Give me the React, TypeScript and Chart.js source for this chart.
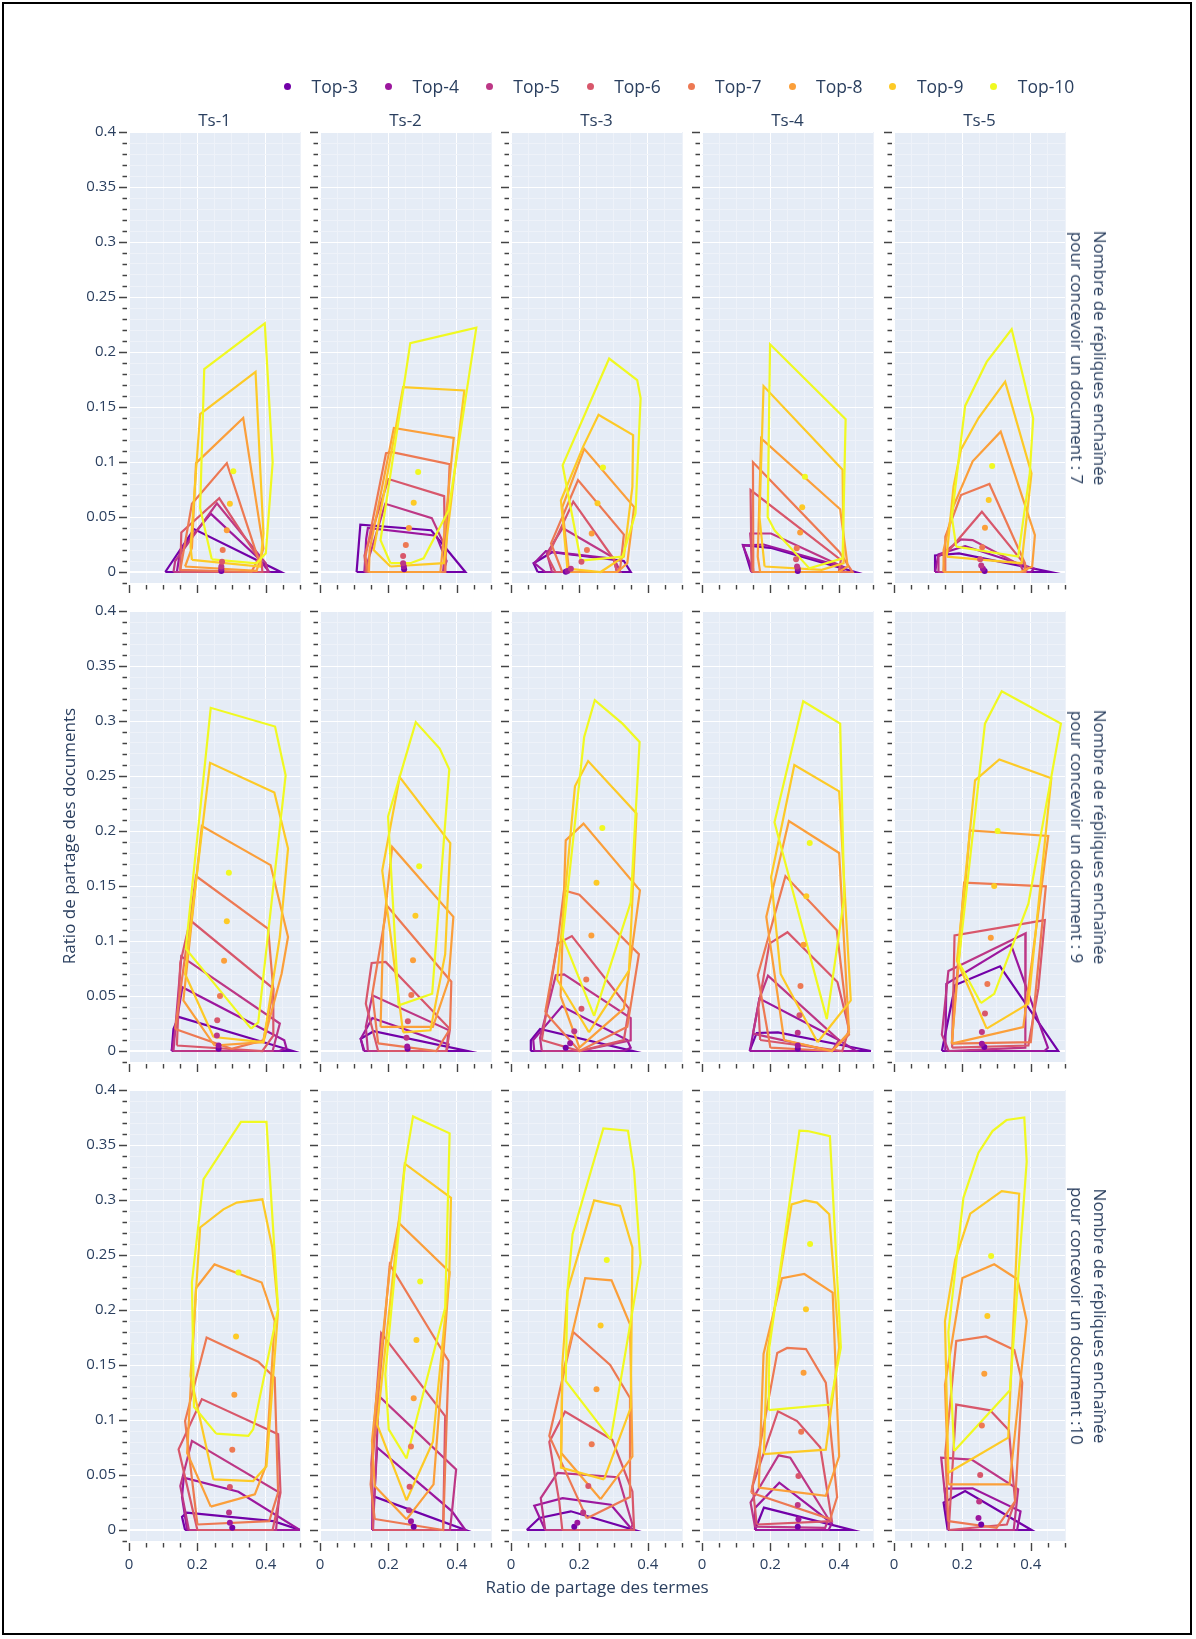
import React, { useEffect, useRef } from "react";
import { Chart, registerables } from "chart.js";

Chart.register(...registerables);

// ---------------- data ----------------
const TOP_LABELS = ["Top-3", "Top-4", "Top-5", "Top-6", "Top-7", "Top-8", "Top-9", "Top-10"];
const TOP_COLORS = ["#7201a8", "#9c179e", "#bd3786", "#d8576b", "#ed7953", "#fb9f3a", "#fdca26", "#f0f921"];
const COL_TITLES = ["Ts-1", "Ts-2", "Ts-3", "Ts-4", "Ts-5"];
const ROW_LABELS = [
  ["Nombre de répliques enchaînée", "pour concevoir un document : 7"],
  ["Nombre de répliques enchaînée", "pour concevoir un document : 9"],
  ["Nombre de répliques enchaînée", "pour concevoir un document :10"],
];
const X_TITLE = "Ratio de partage des termes";
const Y_TITLE = "Ratio de partage des documents";
const X_TICKS = [0, 0.2, 0.4];
const X_TICK_LABELS = ["0", "0.2", "0.4"];
const Y_TICKS = [0, 0.05, 0.1, 0.15, 0.2, 0.25, 0.3, 0.35, 0.4];
const Y_TICK_LABELS = ["0", "0.05", "0.1", "0.15", "0.2", "0.25", "0.3", "0.35", "0.4"];

type Pt = [number, number];

// Row 1 (7)
const R1C1_HULLS: Pt[][] = [
  [[0.106, 0], [0.19, 0.039], [0.444, 0]],
  [[0.14, 0], [0.15, 0.02], [0.239, 0.053], [0.38, 0.012], [0.41, 0]],
  [[0.13, 0], [0.135, 0.01], [0.257, 0.0624], [0.4, 0.008], [0.407, 0]],
  [[0.15, 0], [0.153, 0.036], [0.264, 0.067], [0.388, 0.008], [0.39, 0]],
  [[0.15, 0.002], [0.184, 0.062], [0.286, 0.099], [0.378, 0.012], [0.358, 0]],
  [[0.164, 0.005], [0.184, 0.022], [0.196, 0.099], [0.334, 0.14], [0.393, 0.0215], [0.373, 0.001]],
  [[0.184, 0.011], [0.18, 0.023], [0.208, 0.1436], [0.37, 0.182], [0.393, 0.035], [0.383, 0.005]],
  [[0.242, 0.0115], [0.208, 0.058], [0.22, 0.1845], [0.397, 0.226], [0.42, 0.0997], [0.4, 0.017], [0.373, 0.0079]],
];
const R1C1_CENTERS: Pt[] = [[0.27, 0.001], [0.27, 0.003], [0.27, 0.005], [0.272, 0.0094], [0.274, 0.02], [0.286, 0.038], [0.295, 0.062], [0.305, 0.0915]];

const R1C2_HULLS: Pt[][] = [
  [[0.107, 0], [0.118, 0.043], [0.325, 0.038], [0.425, 0]],
  [[0.13, 0], [0.135, 0.03], [0.14, 0.04], [0.34, 0.033], [0.37, 0.01], [0.36, 0]],
  [[0.13, 0], [0.15, 0.02], [0.191, 0.062], [0.327, 0.049], [0.366, 0.023], [0.36, 0]],
  [[0.135, 0], [0.13, 0.015], [0.2, 0.0845], [0.363, 0.069], [0.366, 0]],
  [[0.14, 0], [0.133, 0.014], [0.193, 0.108], [0.211, 0.109], [0.379, 0.098], [0.366, 0]],
  [[0.143, 0], [0.145, 0.02], [0.216, 0.131], [0.391, 0.122], [0.352, 0]],
  [[0.206, 0.005], [0.157, 0.02], [0.243, 0.168], [0.422, 0.165], [0.362, 0.008]],
  [[0.206, 0.008], [0.177, 0.029], [0.264, 0.208], [0.457, 0.222], [0.376, 0.056], [0.303, 0.0124], [0.264, 0.008]],
];
const R1C2_CENTERS: Pt[] = [[0.246, 0.0025], [0.245, 0.005], [0.243, 0.008], [0.243, 0.0145], [0.251, 0.0245], [0.26, 0.04], [0.274, 0.063], [0.287, 0.091]];

const R1C3_HULLS: Pt[][] = [
  [[0.078, 0], [0.066, 0.008], [0.12, 0.018], [0.33, 0.01], [0.35, 0]],
  [[0.1, 0], [0.068, 0.008], [0.102, 0.019], [0.3, 0.012], [0.31, 0]],
  [[0.12, 0], [0.105, 0.017], [0.151, 0.04], [0.3, 0.013], [0.32, 0]],
  [[0.13, 0], [0.107, 0.014], [0.182, 0.064], [0.3, 0.012], [0.31, 0]],
  [[0.15, 0], [0.117, 0.026], [0.196, 0.0836], [0.33, 0.034], [0.32, 0.005], [0.31, 0]],
  [[0.17, 0], [0.15, 0.059], [0.214, 0.112], [0.36, 0.059], [0.34, 0.008], [0.311, 0]],
  [[0.165, 0.003], [0.146, 0.065], [0.211, 0.114], [0.256, 0.143], [0.357, 0.1245], [0.355, 0.0776], [0.33, 0.014], [0.262, 0]],
  [[0.204, 0.0103], [0.151, 0.097], [0.287, 0.194], [0.369, 0.1745], [0.379, 0.158], [0.364, 0.0533], [0.326, 0.0139]],
];
const R1C3_CENTERS: Pt[] = [[0.16, 0.0003], [0.165, 0.001], [0.175, 0.003], [0.206, 0.0094], [0.222, 0.02], [0.236, 0.035], [0.253, 0.0624], [0.269, 0.095]];

const R1C4_HULLS: Pt[][] = [
  [[0.144, 0], [0.12, 0.0245], [0.2, 0.022], [0.447, 0]],
  [[0.15, 0], [0.12, 0.024], [0.18, 0.025], [0.42, 0.004], [0.41, 0]],
  [[0.15, 0], [0.141, 0.035], [0.202, 0.035], [0.41, 0.005], [0.4, 0]],
  [[0.145, 0], [0.142, 0.0745], [0.406, 0.011], [0.4, 0]],
  [[0.15, 0], [0.149, 0.0997], [0.401, 0.0185], [0.44, 0]],
  [[0.17, 0], [0.163, 0.014], [0.173, 0.1215], [0.404, 0.057], [0.426, 0.005], [0.4, 0]],
  [[0.183, 0.005], [0.168, 0.05], [0.18, 0.169], [0.411, 0.093], [0.414, 0.008], [0.35, 0.002]],
  [[0.212, 0.038], [0.192, 0.05], [0.199, 0.207], [0.42, 0.139], [0.411, 0.0124], [0.314, 0.0033]],
];
const R1C4_CENTERS: Pt[] = [[0.28, 0.001], [0.28, 0.003], [0.278, 0.005], [0.275, 0.0115], [0.277, 0.0215], [0.287, 0.036], [0.293, 0.0588], [0.301, 0.0867]];

const R1C5_HULLS: Pt[][] = [
  [[0.12, 0], [0.12, 0.015], [0.19, 0.017], [0.456, 0]],
  [[0.12, 0], [0.13, 0.016], [0.208, 0.0236], [0.41, 0.003], [0.4, 0]],
  [[0.13, 0], [0.13, 0.014], [0.196, 0.0297], [0.23, 0.029], [0.37, 0.006], [0.38, 0]],
  [[0.145, 0], [0.148, 0.015], [0.257, 0.0548], [0.39, 0.004], [0.385, 0]],
  [[0.15, 0], [0.15, 0.032], [0.196, 0.07], [0.279, 0.08], [0.383, 0.008], [0.383, 0]],
  [[0.145, 0], [0.145, 0.02], [0.174, 0.06], [0.23, 0.1006], [0.312, 0.1276], [0.412, 0.0336], [0.404, 0.005], [0.37, 0]],
  [[0.154, 0.014], [0.174, 0.0776], [0.196, 0.1115], [0.247, 0.14], [0.325, 0.173], [0.402, 0.0897], [0.373, 0.008]],
  [[0.182, 0.023], [0.169, 0.05], [0.208, 0.151], [0.271, 0.191], [0.344, 0.2206], [0.407, 0.1397], [0.397, 0.0897], [0.363, 0.014]],
];
const R1C5_CENTERS: Pt[] = [[0.265, 0.001], [0.26, 0.003], [0.255, 0.006], [0.252, 0.0115], [0.258, 0.0224], [0.266, 0.0403], [0.277, 0.0655], [0.287, 0.0964]];

// Row 2 (9)
const R2C1_HULLS: Pt[][] = [
  [[0.125, 0], [0.13, 0.02], [0.145, 0.031], [0.48, 0]],
  [[0.125, 0], [0.156, 0.058], [0.454, 0.0097], [0.46, 0.003], [0.44, 0]],
  [[0.13, 0], [0.153, 0.086], [0.441, 0.025], [0.42, 0]],
  [[0.14, 0.005], [0.15, 0.08], [0.179, 0.1188], [0.422, 0.0567], [0.422, 0.014], [0.39, 0]],
  [[0.135, 0.02], [0.196, 0.159], [0.407, 0.111], [0.422, 0.055], [0.393, 0.0097], [0.3, 0.002]],
  [[0.25, 0.005], [0.159, 0.046], [0.213, 0.2045], [0.414, 0.169], [0.465, 0.1036], [0.446, 0.07], [0.393, 0.008]],
  [[0.247, 0.0127], [0.164, 0.07], [0.237, 0.262], [0.425, 0.235], [0.465, 0.184], [0.441, 0.1036], [0.393, 0.008]],
  [[0.357, 0.0203], [0.166, 0.093], [0.239, 0.312], [0.427, 0.295], [0.458, 0.2506], [0.378, 0.026]],
];
const R2C1_CENTERS: Pt[] = [[0.262, 0.002], [0.262, 0.005], [0.257, 0.014], [0.258, 0.028], [0.266, 0.05], [0.278, 0.082], [0.286, 0.118], [0.292, 0.162]];

const R2C2_HULLS: Pt[][] = [
  [[0.128, 0], [0.119, 0.011], [0.157, 0.018], [0.43, 0]],
  [[0.13, 0], [0.119, 0.011], [0.153, 0.03], [0.376, 0.006], [0.37, 0]],
  [[0.14, 0], [0.134, 0.022], [0.153, 0.0506], [0.376, 0.019], [0.37, 0]],
  [[0.17, 0], [0.134, 0.043], [0.151, 0.08], [0.192, 0.081], [0.38, 0.02], [0.37, 0]],
  [[0.17, 0.007], [0.153, 0.052], [0.196, 0.132], [0.384, 0.063], [0.38, 0.02], [0.34, 0]],
  [[0.177, 0.022], [0.185, 0.11], [0.211, 0.1855], [0.39, 0.122], [0.376, 0.064], [0.33, 0.022]],
  [[0.243, 0.017], [0.182, 0.164], [0.233, 0.249], [0.381, 0.189], [0.366, 0.088], [0.323, 0.0188]],
  [[0.23, 0.0415], [0.199, 0.213], [0.28, 0.299], [0.35, 0.275], [0.378, 0.256], [0.328, 0.052]],
];
const R2C2_CENTERS: Pt[] = [[0.256, 0.002], [0.255, 0.004], [0.253, 0.012], [0.257, 0.027], [0.267, 0.051], [0.272, 0.0824], [0.279, 0.123], [0.29, 0.168]];

const R2C3_HULLS: Pt[][] = [
  [[0.057, 0], [0.058, 0.0097], [0.085, 0.02], [0.355, 0]],
  [[0.068, 0], [0.065, 0.01], [0.149, 0.0406], [0.34, 0.01], [0.35, 0.003], [0.33, 0]],
  [[0.09, 0], [0.085, 0.012], [0.131, 0.0688], [0.155, 0.0697], [0.35, 0.03], [0.35, 0.0097], [0.2, 0]],
  [[0.09, 0.01], [0.136, 0.0976], [0.178, 0.1045], [0.345, 0.0385], [0.33, 0.01], [0.2, 0]],
  [[0.1, 0.035], [0.136, 0.0976], [0.155, 0.146], [0.2, 0.142], [0.374, 0.088], [0.34, 0.022], [0.2, 0]],
  [[0.145, 0.05], [0.16, 0.1915], [0.212, 0.2067], [0.377, 0.146], [0.33, 0.0385], [0.2, 0.003]],
  [[0.228, 0.017], [0.135, 0.065], [0.187, 0.2406], [0.2255, 0.2636], [0.367, 0.216], [0.345, 0.073]],
  [[0.243, 0.032], [0.151, 0.1036], [0.214, 0.2855], [0.245, 0.319], [0.326, 0.2976], [0.376, 0.281], [0.35, 0.135]],
];
const R2C3_CENTERS: Pt[] = [[0.16, 0.003], [0.173, 0.007], [0.185, 0.018], [0.206, 0.0385], [0.22, 0.065], [0.235, 0.105], [0.25, 0.153], [0.267, 0.2027]];

const R2C4_HULLS: Pt[][] = [
  [[0.139, 0], [0.16, 0.0164], [0.222, 0.017], [0.494, 0]],
  [[0.14, 0], [0.168, 0.0476], [0.4, 0.01], [0.45, 0]],
  [[0.149, 0.0158], [0.168, 0.0476], [0.193, 0.0685], [0.4, 0.01], [0.38, 0]],
  [[0.17, 0.01], [0.165, 0.04], [0.197, 0.0976], [0.25, 0.108], [0.396, 0.0627], [0.43, 0.02], [0.41, 0]],
  [[0.2, 0.003], [0.163, 0.0688], [0.244, 0.159], [0.394, 0.1097], [0.43, 0.015], [0.38, 0]],
  [[0.24, 0.01], [0.188, 0.122], [0.254, 0.209], [0.401, 0.18], [0.43, 0.017], [0.38, 0]],
  [[0.338, 0.008], [0.23, 0.07], [0.202, 0.158], [0.27, 0.26], [0.401, 0.236], [0.435, 0.046]],
  [[0.365, 0.029], [0.212, 0.208], [0.296, 0.318], [0.404, 0.2976], [0.416, 0.14]],
];
const R2C4_CENTERS: Pt[] = [[0.28, 0.002], [0.28, 0.005], [0.28, 0.0167], [0.285, 0.0324], [0.288, 0.059], [0.297, 0.0967], [0.305, 0.1406], [0.315, 0.189]];

const R2C5_HULLS: Pt[][] = [
  [[0.14, 0], [0.179, 0.06], [0.31, 0.077], [0.48, 0]],
  [[0.15, 0], [0.153, 0.061], [0.342, 0.0967], [0.45, 0.003], [0.44, 0]],
  [[0.16, 0], [0.14, 0.015], [0.159, 0.0727], [0.385, 0.107], [0.384, 0.003]],
  [[0.17, 0.003], [0.177, 0.105], [0.441, 0.119], [0.422, 0.0567], [0.393, 0.005]],
  [[0.169, 0.0067], [0.205, 0.153], [0.444, 0.1497], [0.4, 0.008]],
  [[0.169, 0.0067], [0.222, 0.2006], [0.451, 0.1955], [0.378, 0.0218]],
  [[0.271, 0.0203], [0.184, 0.082], [0.237, 0.246], [0.308, 0.265], [0.46, 0.248], [0.393, 0.043]],
  [[0.254, 0.0436], [0.189, 0.081], [0.266, 0.2976], [0.315, 0.327], [0.488, 0.2976], [0.393, 0.134], [0.293, 0.052]],
];
const R2C5_CENTERS: Pt[] = [[0.264, 0.0036], [0.257, 0.0067], [0.257, 0.0173], [0.266, 0.034], [0.273, 0.061], [0.283, 0.103], [0.293, 0.15], [0.303, 0.2]];

// Row 3 (10)
const R3C1_HULLS: Pt[][] = [
  [[0.164, 0], [0.155, 0.012], [0.169, 0.0158], [0.422, 0.008], [0.5, 0]],
  [[0.17, 0], [0.155, 0.03], [0.16, 0.0476], [0.32, 0.0348], [0.5, 0]],
  [[0.175, 0], [0.15, 0.04], [0.184, 0.081], [0.44, 0.034], [0.43, 0]],
  [[0.2, 0], [0.145, 0.0733], [0.213, 0.119], [0.436, 0.087], [0.443, 0.034], [0.42, 0]],
  [[0.2, 0.005], [0.164, 0.099], [0.227, 0.175], [0.378, 0.153], [0.426, 0.1385], [0.436, 0.034], [0.41, 0.008]],
  [[0.239, 0.0212], [0.17, 0.07], [0.196, 0.22], [0.25, 0.2415], [0.388, 0.225], [0.426, 0.19], [0.4, 0.058], [0.368, 0.0324]],
  [[0.247, 0.046], [0.18, 0.14], [0.208, 0.275], [0.276, 0.2915], [0.315, 0.2976], [0.39, 0.3006], [0.419, 0.2567], [0.436, 0.2], [0.402, 0.058], [0.363, 0.0445]],
  [[0.255, 0.0876], [0.19, 0.112], [0.184, 0.225], [0.218, 0.319], [0.3275, 0.371], [0.402, 0.371], [0.436, 0.2006], [0.363, 0.0915], [0.349, 0.0855]],
];
const R3C1_CENTERS: Pt[] = [[0.302, 0.002], [0.295, 0.0067], [0.2925, 0.0158], [0.295, 0.039], [0.302, 0.073], [0.308, 0.123], [0.313, 0.176], [0.32, 0.234]];

const R3C2_HULLS: Pt[][] = [
  [[0.153, 0], [0.153, 0.031], [0.425, 0]],
  [[0.153, 0], [0.167, 0.075], [0.386, 0.017], [0.425, 0]],
  [[0.155, 0], [0.172, 0.1218], [0.398, 0.055], [0.386, 0.017], [0.38, 0]],
  [[0.155, 0], [0.15, 0.06], [0.179, 0.179], [0.366, 0.1036], [0.36, 0]],
  [[0.16, 0.01], [0.148, 0.0415], [0.204, 0.2415], [0.376, 0.1536], [0.36, 0]],
  [[0.253, 0.0097], [0.16, 0.04], [0.152, 0.081], [0.204, 0.237], [0.23, 0.2794], [0.379, 0.2345], [0.332, 0.0415]],
  [[0.253, 0.027], [0.167, 0.096], [0.23, 0.2794], [0.248, 0.333], [0.383, 0.302], [0.378, 0.2324], [0.33, 0.08]],
  [[0.253, 0.065], [0.201, 0.0915], [0.191, 0.1415], [0.248, 0.331], [0.272, 0.376], [0.379, 0.3606], [0.366, 0.202]],
];
const R3C2_CENTERS: Pt[] = [[0.274, 0.003], [0.266, 0.008], [0.26, 0.018], [0.262, 0.0394], [0.266, 0.0758], [0.274, 0.1197], [0.282, 0.1727], [0.293, 0.2258]];

const R3C3_HULLS: Pt[][] = [
  [[0.046, 0], [0.083, 0.011], [0.175, 0.017], [0.36, 0]],
  [[0.1, 0], [0.068, 0.022], [0.151, 0.029], [0.292, 0.023], [0.355, 0]],
  [[0.1, 0], [0.087, 0.029], [0.136, 0.052], [0.314, 0.048], [0.355, 0.005], [0.35, 0]],
  [[0.15, 0], [0.141, 0.026], [0.112, 0.08], [0.158, 0.1076], [0.296, 0.082], [0.355, 0.035], [0.36, 0]],
  [[0.222, 0.0106], [0.112, 0.0855], [0.182, 0.18], [0.29, 0.15], [0.348, 0.12], [0.348, 0.03]],
  [[0.262, 0.028], [0.147, 0.07], [0.15, 0.14], [0.217, 0.229], [0.294, 0.227], [0.348, 0.187], [0.355, 0.067]],
  [[0.272, 0.046], [0.146, 0.0567], [0.15, 0.15], [0.165, 0.217], [0.243, 0.2997], [0.319, 0.2945], [0.355, 0.2567], [0.35, 0.111]],
  [[0.2915, 0.0824], [0.16, 0.1355], [0.165, 0.217], [0.18, 0.269], [0.27, 0.365], [0.342, 0.363], [0.36, 0.326], [0.379, 0.243]],
];
const R3C3_CENTERS: Pt[] = [[0.185, 0.003], [0.194, 0.0067], [0.211, 0.0158], [0.226, 0.04], [0.236, 0.078], [0.25, 0.128], [0.262, 0.186], [0.28, 0.2455]];

const R3C4_HULLS: Pt[][] = [
  [[0.155, 0], [0.181, 0.0203], [0.438, 0]],
  [[0.155, 0], [0.155, 0.02], [0.226, 0.043], [0.38, 0.006], [0.37, 0]],
  [[0.155, 0.003], [0.142, 0.025], [0.224, 0.0679], [0.258, 0.0658], [0.37, 0.01], [0.36, 0.002]],
  [[0.16, 0.005], [0.148, 0.04], [0.222, 0.108], [0.278, 0.099], [0.346, 0.075], [0.38, 0.008]],
  [[0.144, 0.0339], [0.22, 0.161], [0.249, 0.1655], [0.304, 0.1645], [0.362, 0.134], [0.395, 0.03], [0.375, 0.01]],
  [[0.166, 0.0385], [0.18, 0.16], [0.234, 0.229], [0.299, 0.2327], [0.382, 0.2158], [0.401, 0.067], [0.362, 0.031]],
  [[0.181, 0.069], [0.19, 0.16], [0.262, 0.296], [0.302, 0.2997], [0.336, 0.2976], [0.372, 0.287], [0.401, 0.166], [0.362, 0.073]],
  [[0.195, 0.109], [0.197, 0.166], [0.285, 0.363], [0.309, 0.3627], [0.374, 0.358], [0.406, 0.166], [0.375, 0.114]],
];
const R3C4_CENTERS: Pt[] = [[0.28, 0.003], [0.282, 0.0097], [0.28, 0.0227], [0.282, 0.049], [0.29, 0.0894], [0.297, 0.143], [0.304, 0.2006], [0.316, 0.26]];

const R3C5_HULLS: Pt[][] = [
  [[0.157, 0], [0.145, 0.025], [0.208, 0.0355], [0.402, 0]],
  [[0.16, 0], [0.148, 0.0376], [0.23, 0.0379], [0.37, 0.017], [0.36, 0]],
  [[0.16, 0], [0.138, 0.0658], [0.227, 0.064], [0.363, 0.037], [0.35, 0]],
  [[0.16, 0], [0.182, 0.114], [0.281, 0.1088], [0.336, 0.0906], [0.354, 0.026], [0.33, 0.005]],
  [[0.159, 0.008], [0.15, 0.07], [0.182, 0.1718], [0.269, 0.176], [0.352, 0.1636], [0.375, 0.134], [0.354, 0.026], [0.3, 0.002]],
  [[0.159, 0.0415], [0.149, 0.132], [0.2, 0.229], [0.293, 0.2415], [0.361, 0.228], [0.388, 0.19], [0.338, 0.0415]],
  [[0.159, 0.052], [0.149, 0.19], [0.179, 0.2458], [0.223, 0.2876], [0.315, 0.308], [0.366, 0.3058], [0.334, 0.084]],
  [[0.176, 0.0718], [0.159, 0.18], [0.203, 0.302], [0.247, 0.343], [0.288, 0.3627], [0.329, 0.3727], [0.381, 0.375], [0.388, 0.335], [0.339, 0.127]],
];
const R3C5_CENTERS: Pt[] = [[0.255, 0.005], [0.247, 0.011], [0.249, 0.026], [0.252, 0.05], [0.257, 0.095], [0.264, 0.142], [0.273, 0.1945], [0.284, 0.249]];

const PANEL_HULLS: Pt[][][][] = [
  [R1C1_HULLS, R1C2_HULLS, R1C3_HULLS, R1C4_HULLS, R1C5_HULLS],
  [R2C1_HULLS, R2C2_HULLS, R2C3_HULLS, R2C4_HULLS, R2C5_HULLS],
  [R3C1_HULLS, R3C2_HULLS, R3C3_HULLS, R3C4_HULLS, R3C5_HULLS],
];
const PANEL_CENTERS: Pt[][][] = [
  [R1C1_CENTERS, R1C2_CENTERS, R1C3_CENTERS, R1C4_CENTERS, R1C5_CENTERS],
  [R2C1_CENTERS, R2C2_CENTERS, R2C3_CENTERS, R2C4_CENTERS, R2C5_CENTERS],
  [R3C1_CENTERS, R3C2_CENTERS, R3C3_CENTERS, R3C4_CENTERS, R3C5_CENTERS],
];

// ---------------- layout / style ----------------
const FONT = '"Open Sans", verdana, arial, sans-serif';
const TXT = "#2a3f5f";
const PLOT_LEFTS = [129, 320, 511, 702, 894];
const PLOT_TOPS = [132, 611, 1090];
const PLOT_W = 171;
const PLOT_H = 451;
const AX_L = 46;
const AX_B = 46;
const PAD_T = 14;
const PAD_R = 14;
const X_MIN = 0, X_MAX = 0.5, Y_MIN = -0.01, Y_MAX = 0.4;

const X_GRID: number[] = [];
for (let i = 0; i <= 10; i++) X_GRID.push(+(i * 0.05).toFixed(3));
const Y_GRID: number[] = [];
for (let i = -1; i <= 40; i++) Y_GRID.push(+(i * 0.01).toFixed(3));
const isMajorX = (v: number) => X_TICKS.some((t) => Math.abs(t - v) < 1e-6);
const isMajorY = (v: number) => Y_TICKS.some((t) => Math.abs(t - v) < 1e-6);

const decoPlugin = {
  id: "panelDeco",
  beforeDraw(chart: any) {
    const { ctx, chartArea: a } = chart;
    ctx.save();
    ctx.fillStyle = "#E5ECF6";
    ctx.fillRect(a.left, a.top, a.right - a.left, a.bottom - a.top);
    ctx.restore();
  },
  afterDraw(chart: any) {
    const { ctx, chartArea: a, scales } = chart;
    ctx.save();
    ctx.strokeStyle = "#444";
    ctx.lineWidth = 1.4;
    ctx.beginPath();
    X_GRID.forEach((v) => {
      const px = Math.round(scales.x.getPixelForValue(v)) + 0.5;
      const len = isMajorX(v) ? 8 : 4.5;
      ctx.moveTo(px, a.bottom + 2);
      ctx.lineTo(px, a.bottom + 2 + len);
    });
    Y_GRID.forEach((v) => {
      const py = Math.round(scales.y.getPixelForValue(v)) + 0.5;
      const len = isMajorY(v) ? 8 : 4.5;
      ctx.moveTo(a.left - 2, py);
      ctx.lineTo(a.left - 2 - len, py);
    });
    ctx.stroke();
    ctx.restore();
  },
};

const zeroPadding = (s: any) => {
  s.paddingTop = 0;
  s.paddingBottom = 0;
  s.paddingLeft = 0;
  s.paddingRight = 0;
};

function buildConfig(r: number, c: number): any {
  const hulls = PANEL_HULLS[r][c];
  const centers = PANEL_CENTERS[r][c];
  const datasets: any[] = [];
  hulls.forEach((poly, k) => {
    const closed = [...poly, poly[0]];
    datasets.push({
      label: TOP_LABELS[k] + " hull",
      data: closed.map(([x, y]) => ({ x, y })),
      showLine: true,
      borderColor: TOP_COLORS[k],
      backgroundColor: TOP_COLORS[k],
      borderWidth: 2.2,
      pointRadius: 0,
      fill: false,
      tension: 0,
      order: 100 - k,
    });
  });
  centers.forEach(([x, y], k) => {
    datasets.push({
      label: TOP_LABELS[k],
      data: [{ x, y }],
      showLine: false,
      backgroundColor: TOP_COLORS[k],
      borderColor: TOP_COLORS[k],
      borderWidth: 0,
      pointRadius: 3,
      order: 50 - k,
    });
  });
  const showY = c === 0;
  const showX = r === 2;
  return {
    type: "scatter",
    data: { datasets },
    options: {
      animation: false,
      responsive: false,
      maintainAspectRatio: false,
      events: [],
      layout: { padding: { top: PAD_T, right: PAD_R, left: 0, bottom: 0 } },
      plugins: { legend: { display: false }, tooltip: { enabled: false }, title: { display: false } },
      scales: {
        x: {
          type: "linear",
          position: "bottom",
          min: X_MIN,
          max: X_MAX,
          afterBuildTicks: (s: any) => {
            s.ticks = X_GRID.map((v) => ({ value: v }));
          },
          afterFit: (s: any) => {
            s.height = AX_B;
            zeroPadding(s);
          },
          border: { display: false },
          grid: {
            drawTicks: false,
            color: (ctx: any) => {
              const v = ctx.tick ? ctx.tick.value : 0;
              return isMajorX(v) ? "#FFFFFF" : "#EEF2F9";
            },
            lineWidth: (ctx: any) => {
              const v = ctx.tick ? ctx.tick.value : 0;
              return Math.abs(v) < 1e-9 ? 2 : 1;
            },
          },
          ticks: {
            autoSkip: false,
            maxRotation: 0,
            minRotation: 0,
            padding: 15,
            color: TXT,
            font: { family: FONT, size: 15 },
            callback: (v: number) => {
              if (!showX) return "";
              const i = X_TICKS.findIndex((t) => Math.abs(t - v) < 1e-6);
              return i >= 0 ? X_TICK_LABELS[i] : "";
            },
          },
        },
        y: {
          type: "linear",
          position: "left",
          min: Y_MIN,
          max: Y_MAX,
          afterBuildTicks: (s: any) => {
            s.ticks = Y_GRID.map((v) => ({ value: v }));
          },
          afterFit: (s: any) => {
            s.width = AX_L;
            zeroPadding(s);
          },
          border: { display: false },
          grid: {
            drawTicks: false,
            color: (ctx: any) => {
              const v = ctx.tick ? ctx.tick.value : 0;
              if (v < -1e-9) return "rgba(0,0,0,0)";
              return isMajorY(v) ? "#FFFFFF" : "#EEF2F9";
            },
            lineWidth: (ctx: any) => {
              const v = ctx.tick ? ctx.tick.value : 0;
              return Math.abs(v) < 1e-9 ? 2 : 1;
            },
          },
          ticks: {
            autoSkip: false,
            padding: 13,
            color: TXT,
            font: { family: FONT, size: 15 },
            callback: (v: number) => {
              if (!showY) return "";
              const i = Y_TICKS.findIndex((t) => Math.abs(t - v) < 1e-6);
              return i >= 0 ? Y_TICK_LABELS[i] : "";
            },
          },
        },
      },
    },
    plugins: [decoPlugin],
  };
}

function Panel({ r, c }: { r: number; c: number }) {
  const ref = useRef<HTMLCanvasElement>(null);
  useEffect(() => {
    if (!ref.current) return;
    const chart = new Chart(ref.current, buildConfig(r, c));
    return () => chart.destroy();
  }, [r, c]);
  const w = AX_L + PLOT_W + PAD_R;
  const h = PAD_T + PLOT_H + AX_B;
  return (
    <canvas
      ref={ref}
      width={w}
      height={h}
      style={{ position: "absolute", left: PLOT_LEFTS[c] - AX_L, top: PLOT_TOPS[r] - PAD_T, width: w, height: h }}
    />
  );
}

const LEGEND_X0 = 287.5;
const LEGEND_STEP = 100.9;
const LEGEND_Y = 86;

export default function App() {
  const panels: JSX.Element[] = [];
  for (let r = 0; r < 3; r++) for (let c = 0; c < 5; c++) panels.push(<Panel key={`${r}-${c}`} r={r} c={c} />);
  const text: React.CSSProperties = { position: "absolute", color: TXT, fontFamily: FONT, whiteSpace: "nowrap" };
  return (
    <div style={{ position: "absolute", left: 0, top: 0, width: 1196, height: 1639, background: "#fff", overflow: "hidden" }}>
      <div style={{ position: "absolute", left: 2, top: 2, width: 1190, height: 1633, border: "2px solid #000", boxSizing: "border-box" }} />
      {panels}
      {TOP_LABELS.map((lab, k) => (
        <React.Fragment key={lab}>
          <div
            style={{
              position: "absolute",
              left: LEGEND_X0 + k * LEGEND_STEP - 3.5,
              top: LEGEND_Y - 3.5,
              width: 7,
              height: 7,
              borderRadius: "50%",
              background: TOP_COLORS[k],
            }}
          />
          <div style={{ ...text, left: LEGEND_X0 + k * LEGEND_STEP + 24, top: LEGEND_Y - 12, fontSize: 17.5, lineHeight: "24px" }}>{lab}</div>
        </React.Fragment>
      ))}
      {COL_TITLES.map((t, c) => (
        <div key={t} style={{ ...text, left: PLOT_LEFTS[c], width: PLOT_W, top: 108, textAlign: "center", fontSize: 17, lineHeight: "24px" }}>
          {t}
        </div>
      ))}
      {ROW_LABELS.map((lines, r) => (
        <div
          key={r}
          style={{
            ...text,
            left: 1089,
            top: PLOT_TOPS[r] + PLOT_H / 2,
            transform: "translate(-50%, -50%) rotate(90deg)",
            textAlign: "center",
            fontSize: 17,
            lineHeight: "23px",
          }}
        >
          {lines[0]}
          <br />
          {lines[1]}
        </div>
      ))}
      <div style={{ ...text, left: 597, top: 1587, transform: "translate(-50%, -50%)", fontSize: 17, lineHeight: "24px" }}>{X_TITLE}</div>
      <div style={{ ...text, left: 69, top: 836, transform: "translate(-50%, -50%) rotate(-90deg)", fontSize: 17, lineHeight: "24px" }}>{Y_TITLE}</div>
    </div>
  );
}
